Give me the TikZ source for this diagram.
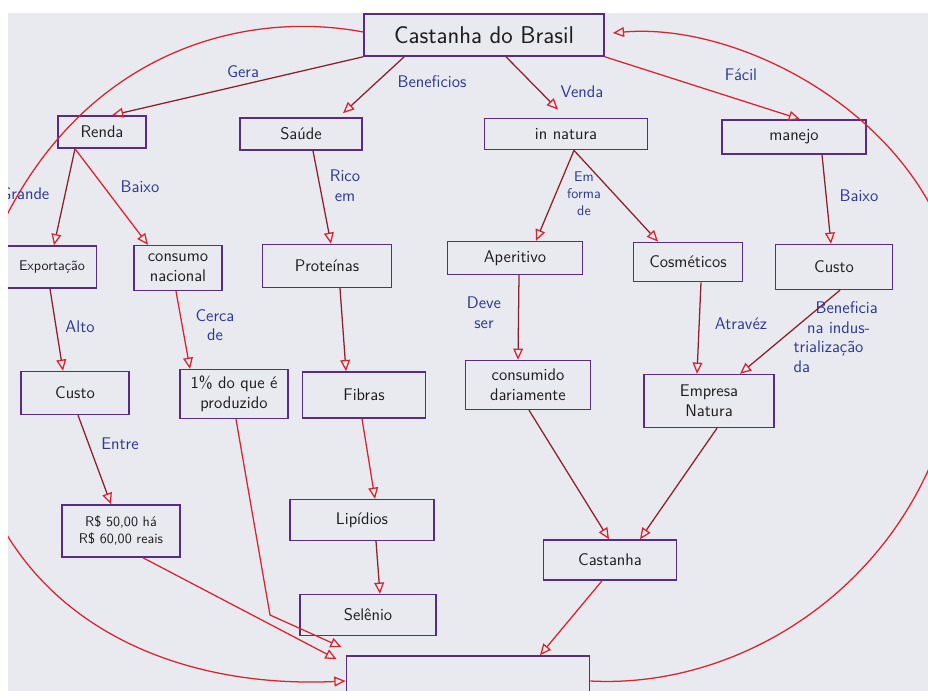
\documentclass[tikz,border=0pt]{standalone}
\usepackage{tikz}
\usetikzlibrary{arrows.meta}
\definecolor{boxline}{HTML}{5A2A86}
\definecolor{pen}{HTML}{D9232E}
\definecolor{darkpen}{HTML}{8E1F2C}
\definecolor{ink}{HTML}{2B3A8F}
\definecolor{paper}{HTML}{E9E9F0}
\definecolor{darktext}{HTML}{1E1E1E}

\begin{document}
\begin{tikzpicture}[
  x=0.025cm, y=-0.025cm,
  concept/.style={rectangle, draw=boxline, line width=1.1pt, text=darktext,
    font=\large\sffamily, align=center, inner sep=2pt},
  link/.style={draw=darkpen, line width=0.9pt,
    -{Triangle[open, length=8pt, width=7pt, color=pen]}},
  redlink/.style={link, draw=pen},
  word/.style={text=ink, font=\large\sffamily, align=center, inner sep=1pt},
]
\useasboundingbox (0,0) rectangle (928,691);
\fill[white] (0,0) rectangle (928,691);
\fill[paper] (8,13) rectangle (928,691);
\begin{scope}
\clip (8,13) rectangle (928,691);
% top row
\node[concept, font=\LARGE\sffamily, minimum width=6cm, minimum height=1.05cm] (cdb) at (484,35) {Castanha do Brasil};
\node[concept, minimum width=2.2cm, minimum height=0.8cm] (renda) at (102,132) {Renda};
\node[concept, minimum width=3.05cm, minimum height=0.8cm] (saude) at (301,134) {Saúde};
\node[concept, minimum width=4.08cm, minimum height=0.78cm] (natura) at (566,134) {in natura};
\node[concept, minimum width=3.6cm, minimum height=0.85cm] (manejo) at (794,137) {manejo};
% second row
\node[concept, font=\normalsize\sffamily, minimum width=2.22cm, minimum height=1.05cm] (export) at (52,267) {Exportação};
\node[concept, minimum width=2.2cm, minimum height=1.12cm] (consumo) at (178,268) {consumo\\nacional};
\node[concept, minimum width=3.22cm, minimum height=1.07cm] (prot) at (327,266) {Proteínas};
\node[concept, minimum width=3.38cm, minimum height=0.82cm] (aper) at (515,258) {Aperitivo};
\node[concept, minimum width=2.72cm, minimum height=0.98cm] (cosm) at (688,262) {Cosméticos};
\node[concept, minimum width=2.92cm, minimum height=1.12cm] (custoR) at (834,267) {Custo};
% third row
\node[concept, minimum width=2.7cm, minimum height=1.07cm] (custoL) at (75,393) {Custo};
\node[concept, minimum width=2.7cm, minimum height=1.22cm] (pct) at (234,394) {1\% do que é\\produzido};
\node[concept, minimum width=3.07cm, minimum height=1.15cm] (fibras) at (364,395) {Fibras};
\node[concept, minimum width=3.12cm, minimum height=1.22cm] (consumido) at (528,385) {consumido\\dariamente};
\node[concept, minimum width=3.25cm, minimum height=1.32cm] (empresa) at (709,401) {Empresa\\Natura};
% lower part
\node[concept, font=\normalsize\sffamily, minimum width=2.95cm, minimum height=1.3cm] (rs) at (121,531) {R\$ 50,00 há\\R\$ 60,00 reais};
\node[concept, minimum width=3.6cm, minimum height=1.02cm] (lip) at (362,520) {Lipídios};
\node[concept, minimum width=3.4cm, minimum height=1.02cm] (sel) at (368,615) {Selênio};
\node[concept, minimum width=3.32cm, minimum height=1cm] (castB) at (610,560) {Castanha};
\node[concept, minimum width=6.08cm, minimum height=1.25cm] (bot) at (468,681) {};
\coordinate (bend) at (270,615);
\coordinate (leftfar) at (-40,350);
\coordinate (rightfar) at (960,350);

% connectors
\draw[link] (cdb.south west) -- ([shift={(10,0)}]renda.north);
\draw[link] ([shift={(41,0)}]cdb.south west) -- ([shift={(42,-4)}]saude.north);
\draw[link] ([shift={(22,0)}]cdb.south) -- ([shift={(-8,-8)}]natura.north);
\draw[redlink] (cdb.south east) -- ([shift={(6,0)}]manejo.north);
\draw[link] ([shift={(-27,0)}]renda.south) -- ([shift={(2,0)}]export.north);
\draw[redlink] ([shift={(-27,0)}]renda.south) -- ([shift={(-30,0)}]consumo.north);
\draw[link] ([shift={(12,0)}]saude.south) -- ([shift={(4,0)}]prot.north);
\draw[link] ([shift={(8,0)}]natura.south) -- ([shift={(21,0)}]aper.north);
\draw[link] ([shift={(8,0)}]natura.south) -- ([shift={(-30,0)}]cosm.north);
\draw[link] ([shift={(28,0)}]manejo.south) -- ([shift={(-3,0)}]custoR.north);
\draw[link] ([shift={(-2,0)}]export.south) -- ([shift={(-12,0)}]custoL.north);
\draw[redlink] ([shift={(-2,0)}]consumo.south) -- ([shift={(-44,0)}]pct.north);
\draw[link] ([shift={(13,0)}]prot.south) -- ([shift={(-18,0)}]fibras.north);
\draw[link] ([shift={(4,0)}]aper.south) -- ([shift={(-10,0)}]consumido.north);
\draw[link] ([shift={(13,0)}]cosm.south) -- ([shift={(-12,0)}]empresa.north);
\draw[link] ([shift={(6,0)}]custoR.south) -- ([shift={(31,0)}]empresa.north);
\draw[link] ([shift={(3,0)}]custoL.south) -- ([shift={(-10,0)}]rs.north);
\draw[redlink] ([shift={(-2,0)}]fibras.south) -- ([shift={(13,0)}]lip.north);
\draw[link] ([shift={(14,0)}]lip.south) -- ([shift={(12,0)}]sel.north);
\draw[link] ([shift={(1,0)}]consumido.south) -- ([shift={(-1,0)}]castB.north);
\draw[link] ([shift={(8,0)}]empresa.south) -- ([shift={(30,0)}]castB.north);
\draw[redlink] ([shift={(-8,0)}]castB.south) -- ([shift={(72,0)}]bot.north);
\draw[redlink] ([shift={(22,0)}]rs.south) -- ([shift={(-9,4)}]bot.north west);
\draw[redlink] ([shift={(2,0)}]pct.south) -- (bend) -- ([shift={(-4,-8)}]bot.north west);
% big arcs
\draw[redlink] ([shift={(0,-3)}]cdb.west) .. controls (220,5) and (20,70) .. (leftfar)
  .. controls (-40,600) and (150,690) .. (bot.west);
\draw[redlink] (bot.east) .. controls (760,690) and (940,560) .. (rightfar)
  .. controls (980,150) and (760,20) .. ([shift={(8,-2)}]cdb.east);

% link words
\node[word] (wGera) at (243,72) {Gera};
\node[word] (wBenef) at (432,82) {Beneficios};
\node[word] (wVenda) at (582,92) {Venda};
\node[word] (wFacil) at (741,75) {Fácil};
\node[word, anchor=east] (wGrande) at (51,194) {Grande};
\node[word] (wBaixoL) at (140,187) {Baixo};
\node[word] (wRico) at (345,186) {Rico\\em};
\node[word, font=\normalsize\sffamily] (wForma) at (584,194) {Em\\forma\\de};
\node[word] (wBaixoR) at (859,196) {Baixo};
\node[word] (wAlto) at (80,327) {Alto};
\node[word] (wCerca) at (215,325) {Cerca\\de};
\node[word] (wDeve) at (484,313) {Deve\\ser};
\node[word] (wAtravez) at (741,324) {Atravéz};
\node[word, align=left, anchor=north west] (wIndus) at (792,300) {\hspace{1.3em}Beneficia\\\hspace{0.8em}na indus-\\trialização\\da};
\node[word] (wEntre) at (120,444) {Entre};
\end{scope}
\end{tikzpicture}
\end{document}
